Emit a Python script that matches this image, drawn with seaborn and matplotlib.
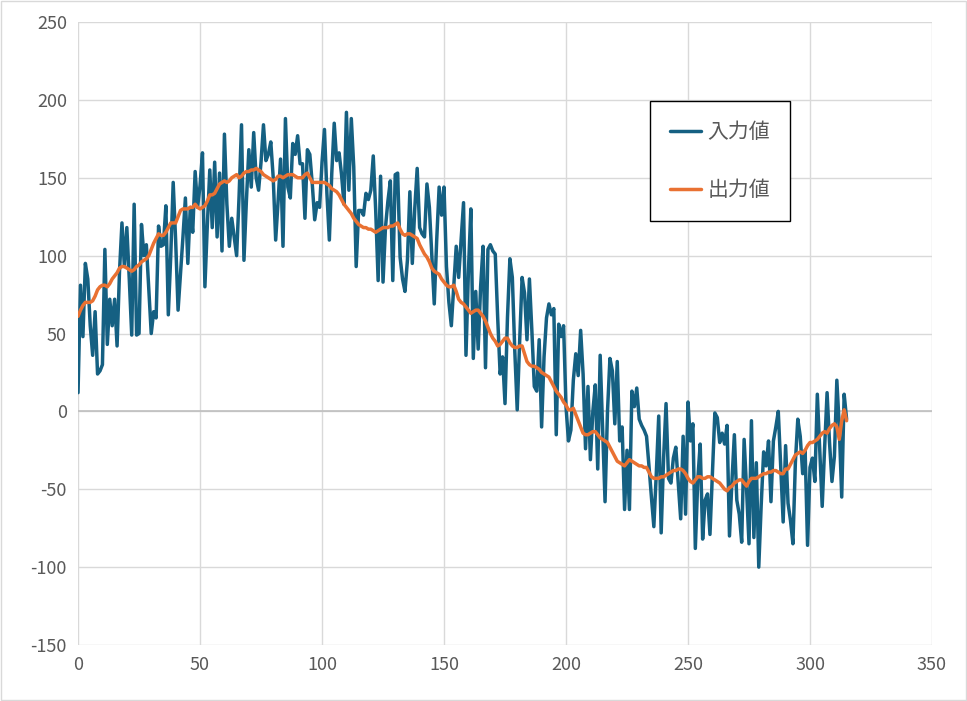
import numpy as np
import pandas as pd
import matplotlib
matplotlib.use("Agg")
import matplotlib.pyplot as plt
import seaborn as sns

# values
input_vals = [
    12, 81, 48, 95, 85, 55, 36, 64, 24, 26,
    30, 104, 43, 72, 55, 72, 42, 90, 121, 93,
    118, 85, 49, 133, 49, 50, 120, 100, 107, 78,
    50, 64, 60, 119, 106, 107, 132, 62, 100, 147,
    110, 65, 88, 112, 137, 95, 131, 115, 154, 131,
    145, 166, 80, 120, 155, 118, 160, 112, 153, 103,
    178, 133, 106, 124, 112, 100, 138, 184, 97, 135,
    168, 144, 179, 150, 142, 160, 184, 161, 165, 173,
    150, 110, 135, 162, 106, 188, 144, 137, 172, 165,
    177, 159, 159, 124, 168, 165, 146, 123, 134, 131,
    160, 181, 140, 110, 153, 185, 161, 166, 152, 133,
    192, 142, 188, 157, 93, 129, 129, 126, 140, 136,
    142, 164, 129, 84, 151, 83, 118, 135, 148, 84,
    152, 153, 99, 85, 77, 97, 141, 95, 130, 156,
    118, 114, 112, 146, 131, 100, 69, 110, 144, 126,
    144, 93, 70, 55, 80, 106, 86, 110, 134, 36,
    90, 130, 34, 77, 40, 80, 106, 28, 104, 107,
    103, 101, 60, 24, 35, 5, 60, 98, 86, 39,
    1, 45, 86, 76, 46, 85, 52, 16, 13, 46,
    -10, 35, 60, 69, 62, 66, -15, 56, 48, 55,
    3, -19, -12, 20, 37, 23, 52, 24, -24, 16,
    -31, 0, 17, -37, 36, -12, -58, 0, 34, 26,
    -8, 32, -19, -10, -63, -25, -63, 13, 3, 15,
    -5, -9, -12, -16, -35, -55, -74, -40, -3, -78,
    -30, 5, -43, -46, -30, -23, -46, -69, -16, -66,
    6, -19, -8, -88, -44, -21, -82, -57, -53, -79,
    -40, -1, -4, -20, -14, -21, -9, -80, -45, -15,
    -57, -66, -84, -18, -50, -85, -6, -81, -33, -100,
    -60, -26, -35, -19, -58, -19, -10, 0, -35, -71,
    -22, -59, -70, -85, -33, -5, -16, -40, -25, -86,
    -36, -30, -45, 11, -25, -61, -23, 12, -20, -45,
    -29, 20, -10, -55, 11, -5,
]

output_vals = [
    61, 65, 68, 70, 70, 70, 71, 74, 78, 80,
    81, 81, 80, 82, 85, 87, 89, 92, 93, 93,
    92, 91, 90, 91, 93, 94, 96, 97, 98, 100,
    104, 108, 111, 114, 113, 113, 115, 118, 121, 121,
    121, 125, 129, 130, 130, 130, 131, 131, 133, 131,
    130, 131, 132, 135, 139, 139, 140, 143, 146, 147,
    148, 147, 148, 150, 151, 152, 150, 151, 153, 154,
    154, 155, 155, 156, 155, 154, 152, 151, 150, 149,
    148, 149, 151, 151, 150, 151, 152, 152, 152, 151,
    150, 150, 150, 152, 153, 150, 147, 147, 147, 147,
    147, 147, 146, 145, 143, 142, 141, 139, 136, 133,
    131, 129, 127, 124, 122, 120, 119, 118, 118, 117,
    117, 116, 115, 116, 117, 118, 118, 118, 119, 119,
    120, 121, 117, 114, 113, 114, 114, 113, 112, 111,
    107, 104, 101, 99, 96, 92, 90, 89, 88, 85,
    83, 81, 80, 80, 81, 77, 72, 70, 69, 67,
    65, 63, 64, 65, 65, 63, 61, 58, 54, 50,
    47, 45, 42, 43, 45, 47, 47, 44, 42, 41,
    41, 42, 42, 37, 32, 30, 29, 29, 28, 27,
    25, 24, 23, 22, 19, 16, 13, 11, 9, 6,
    4, 1, 1, 2, -2, -6, -10, -14, -15, -15,
    -14, -13, -13, -15, -17, -18, -19, -20, -23, -26,
    -29, -32, -33, -34, -35, -33, -31, -32, -33, -34,
    -35, -35, -36, -36, -39, -42, -43, -43, -43, -42,
    -42, -41, -40, -39, -38, -38, -37, -37, -38, -40,
    -43, -45, -46, -44, -42, -42, -43, -43, -42, -42,
    -43, -44, -45, -46, -48, -50, -51, -49, -48, -46,
    -45, -44, -44, -46, -48, -45, -43, -43, -43, -42,
    -41, -40, -40, -39, -39, -38, -38, -39, -40, -40,
    -37, -37, -34, -31, -28, -27, -26, -27, -25, -22,
    -20, -20, -19, -18, -16, -14, -13, -14, -11, -9,
    -8, -10, -18, -6, 1, -6,
]

x_vals = list(range(len(input_vals)))
labels = ["入力値", "出力値"]
y_ticks = [-150, -100, -50, 0, 50, 100, 150, 200, 250]
x_ticks = [0, 50, 100, 150, 200, 250, 300, 350]

df = pd.DataFrame({"x": x_vals, "in": input_vals, "out": output_vals})

sns.set_theme(style="white")
plt.rcParams["font.family"] = ["Noto Sans CJK JP", "DejaVu Sans"]
plt.rcParams["axes.unicode_minus"] = False

fig = plt.figure(figsize=(9.67, 7.01), dpi=100)
ax = fig.add_axes([0.0807, 0.0799, 0.8831, 0.8887])

sns.lineplot(data=df, x="x", y="in", ax=ax, color="#156082", linewidth=2.5, label=labels[0])
sns.lineplot(data=df, x="x", y="out", ax=ax, color="#E97132", linewidth=2.5, label=labels[1])

ax.set_xlim(0, 350)
ax.set_ylim(-150, 250)
ax.set_xticks(x_ticks)
ax.set_yticks(y_ticks)
ax.grid(True, color="#d9d9d9", linewidth=1)
ax.set_axisbelow(True)
ax.axhline(0, color="#bfbfbf", linewidth=1.2, zorder=1)
for s in ax.spines.values():
    s.set_visible(False)
ax.tick_params(axis="both", length=0, labelsize=13, labelcolor="#595959", pad=8)
ax.set_xlabel("")
ax.set_ylabel("")

leg = ax.legend(loc="upper left", bbox_to_anchor=(0.67, 0.873), borderaxespad=0,
                fancybox=False, edgecolor="black", fontsize=15, labelspacing=1.75,
                handlelength=1.5, handletextpad=0.3, borderpad=0.95, framealpha=1)
leg.get_frame().set_linewidth(1.0)
for t in leg.get_texts():
    t.set_color("#595959")

fig.patches.append(plt.Rectangle((0.001, 0.001), 0.998, 0.998, transform=fig.transFigure,
                                 fill=False, edgecolor="#d9d9d9", linewidth=1))

fig.savefig("out.png", dpi=100)
